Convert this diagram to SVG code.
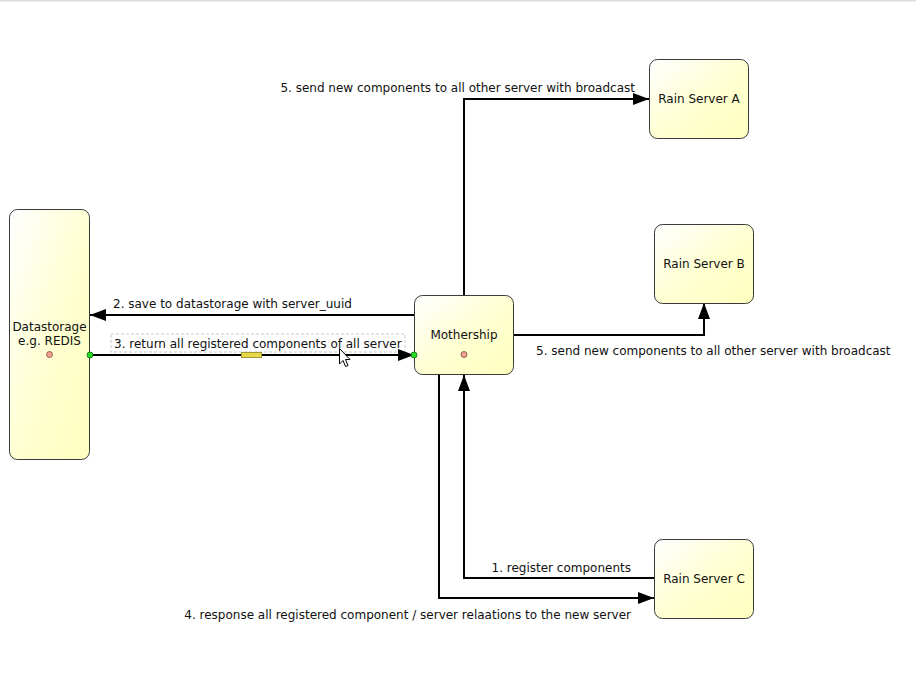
<svg xmlns="http://www.w3.org/2000/svg" width="916" height="688" viewBox="0 0 916 688">
<defs>
<linearGradient id="g" x1="0" y1="0" x2="1" y2="1">
<stop offset="0" stop-color="#ffffff"/>
<stop offset="0.55" stop-color="#ffffd0"/>
<stop offset="1" stop-color="#ffffc0"/>
</linearGradient>
<marker id="arr" viewBox="0 0 16 12" refX="16" refY="6" markerWidth="16" markerHeight="12" markerUnits="userSpaceOnUse" orient="auto">
<path d="M0,0 L16,6 L0,12 Z" fill="#000"/>
</marker>
<style>
.node{fill:url(#g);stroke:#3a3a3a;stroke-width:1}
.t{font-family:"DejaVu Sans",sans-serif;font-size:12px;fill:#111}
.c{text-anchor:middle}
.e{fill:none;stroke:#000;stroke-width:2}
.dot{fill:#f0a090;stroke:#7a4a40;stroke-width:0.8}
.h{fill:#22dd22;stroke:#116611;stroke-width:0.8}
</style>
</defs>
<rect x="0" y="0" width="916" height="688" fill="#fff"/>
<rect x="0" y="0" width="916" height="1.5" fill="#dcdcdc"/>
<g id="connectors">
<polyline class="e" points="464,295 464,99 649,99" marker-end="url(#arr)"/>
<text class="t" x="635" y="92" text-anchor="end">5. send new components to all other server with broadcast</text>
<polyline class="e" points="514,335 704,335 704,303" marker-end="url(#arr)"/>
<text class="t" x="536" y="355">5. send new components to all other server with broadcast</text>
<line class="e" x1="414" y1="315" x2="90" y2="315" marker-end="url(#arr)"/>
<text class="t" x="113" y="308">2. save to datastorage with server_uuid</text>
<rect x="111" y="334" width="294" height="18" fill="#fff" stroke="#c8c8c8" stroke-width="1" stroke-dasharray="3,2"/>
<line class="e" x1="90" y1="355" x2="414" y2="355" marker-end="url(#arr)"/>
<text class="t" x="114" y="348">3. return all registered components of all server</text>
<polyline class="e" points="654,578 464,578 464,375" marker-end="url(#arr)"/>
<text class="t" x="631" y="572" text-anchor="end">1. register components</text>
<polyline class="e" points="439,375 439,598 654,598" marker-end="url(#arr)"/>
<text class="t" x="631" y="619" text-anchor="end">4. response all registered component / server relaations to the new server</text>
<rect x="241.5" y="352.5" width="20" height="5" fill="#e6d84a" stroke="#a09a30" stroke-width="1"/>
</g>
<g id="datastorage">
<rect class="node" x="9.5" y="209.5" width="80" height="250" rx="8"/>
<text class="t c" x="49.5" y="331">Datastorage</text>
<text class="t c" x="49.5" y="345">e.g. REDIS</text>
<circle class="dot" cx="49.5" cy="354.5" r="3"/>
</g>
<g id="mothership">
<rect class="node" x="414.5" y="295.5" width="99" height="79" rx="8"/>
<text class="t c" x="464" y="339">Mothership</text>
<circle class="dot" cx="464" cy="354.5" r="3"/>
</g>
<g id="rainA">
<rect class="node" x="649.5" y="59.5" width="99" height="79" rx="8"/>
<text class="t c" x="699" y="103">Rain Server A</text>
</g>
<g id="rainB">
<rect class="node" x="654.5" y="224.5" width="99" height="79" rx="8"/>
<text class="t c" x="704" y="268">Rain Server B</text>
</g>
<g id="rainC">
<rect class="node" x="654.5" y="539.5" width="99" height="79" rx="8"/>
<text class="t c" x="704" y="583">Rain Server C</text>
</g>
<g id="selection">
<circle class="h" cx="90" cy="355" r="3"/>
<circle class="h" cx="414" cy="355" r="3"/>
<path d="M339.5,348.5 L339.5,364 L343,360.5 L345.5,366.5 L348,365.5 L345.5,359.5 L350,359.5 Z" fill="#fff" stroke="#000" stroke-width="1" stroke-linejoin="round"/>
</g>
</svg>
